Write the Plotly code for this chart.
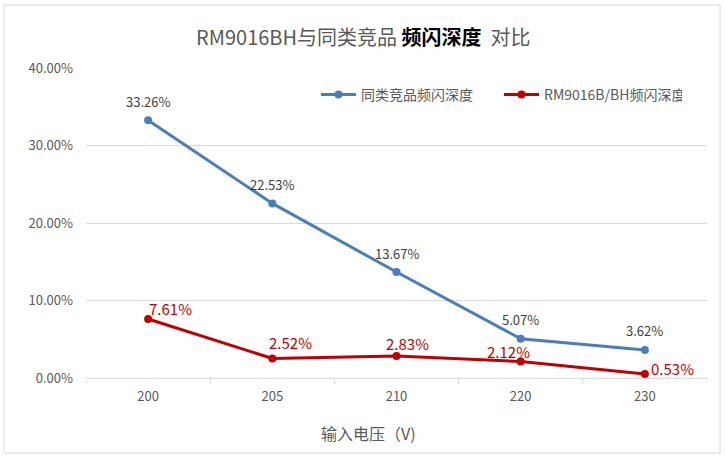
import plotly.graph_objects as go

categories = ["200", "205", "210", "220", "230"]
competitor = [33.26, 22.53, 13.67, 5.07, 3.62]
rm9016 = [7.61, 2.52, 2.83, 2.12, 0.53]
y_ticks = [0, 10, 20, 30, 40]
y_tick_labels = ["0.00%", "10.00%", "20.00%", "30.00%", "40.00%"]
series_names = ["同类竞品频闪深度", "RM9016B/BH频闪深度"]

W, H = 726, 457
L, R, T, B = 86, 707, 68, 378
FONT = "Noto Sans CJK SC"
BLUE = "#4a7ebb"
RED = "#c00000"
GRAY = "#595959"

idx = list(range(len(categories)))

fig = go.Figure()
fig.add_trace(go.Scatter(x=idx, y=competitor, mode="lines+markers",
                         name=series_names[0], line=dict(color=BLUE, width=3),
                         marker=dict(size=8, color=BLUE)))
fig.add_trace(go.Scatter(x=idx, y=rm9016, mode="lines+markers",
                         name=series_names[1], line=dict(color=RED, width=3),
                         marker=dict(size=8, color=RED)))

# data labels
for i, v in zip(idx, competitor):
    fig.add_annotation(x=i, y=v, text=f"{v:.2f}%", showarrow=False,
                       yshift=19, font=dict(family=FONT, size=13, color="#404040"))
red_shift = [(22, 11), (18, 16), (11, 13), (-12, 10), (28, 5)]
for i, v, (dx, dy) in zip(idx, rm9016, red_shift):
    fig.add_annotation(x=i, y=v, text=f"{v:.2f}%", showarrow=False,
                       xshift=dx, yshift=dy, font=dict(family=FONT, size=15, color=RED))

pw, ph = R - L, B - T
def px(x):
    return (x - L) / pw
def py(y):
    return (B - y) / ph

# outer border
fig.add_shape(type="rect", xref="paper", yref="paper",
              x0=px(4), x1=px(720), y0=py(453), y1=py(5),
              line=dict(color="#d9d9d9", width=1), layer="below")

# title
fig.add_annotation(xref="paper", yref="paper", x=px(363), y=py(37),
                   text="RM9016BH与同类竞品 <b><span style='color:#000000'>频闪深度</span></b>  对比",
                   showarrow=False, font=dict(family=FONT, size=20, color=GRAY),
                   xanchor="center", yanchor="middle")
# x-axis title
fig.add_annotation(xref="paper", yref="paper", x=px(368), y=py(433),
                   text="输入电压（V)", showarrow=False,
                   font=dict(family=FONT, size=16, color=GRAY),
                   xanchor="center", yanchor="middle")

fig.update_layout(
    width=W, height=H,
    margin=dict(l=L, r=W - R, t=T, b=H - B, pad=0),
    paper_bgcolor="white", plot_bgcolor="white",
    font=dict(family=FONT, size=12, color=GRAY),
    showlegend=True,
    legend=dict(orientation="h", x=px(316), y=py(95), xanchor="left", yanchor="middle",
                font=dict(family=FONT, size=14, color=GRAY),
                itemwidth=35, tracegroupgap=0,
                entrywidth=133, entrywidthmode="pixels"),
    xaxis=dict(tickmode="array", tickvals=idx, ticktext=categories,
               showgrid=False, showline=True, linecolor="#d9d9d9", zeroline=False,
               linewidth=1, ticks="", tickfont=dict(family=FONT, size=13, color=GRAY),
               range=[-0.5, 4.5], ticklabelstandoff=6),
    yaxis=dict(range=[0, 40], tickvals=y_ticks, ticktext=y_tick_labels,
               showgrid=True, gridcolor="#d9d9d9", gridwidth=1, zeroline=False,
               showline=False, tickfont=dict(family=FONT, size=13, color=GRAY),
               ticks="", ticklabelstandoff=12),
)

# category boundary tick marks on x axis
for i in range(len(categories) + 1):
    fig.add_shape(type="line", xref="x", yref="paper", x0=i - 0.5, x1=i - 0.5,
                  y0=0, y1=-6 / ph, line=dict(color="#d9d9d9", width=1))

fig.write_html("out.html", config={"displayModeBar": False},
               post_script="document.body.style.margin='0px';")
